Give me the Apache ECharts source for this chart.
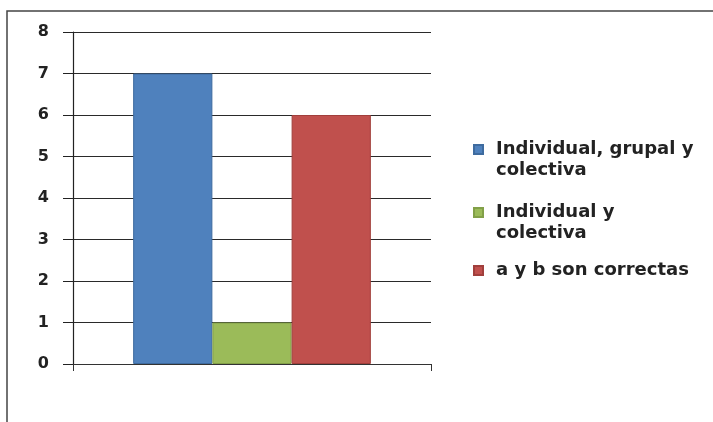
<!DOCTYPE html>
<html>
<head>
<meta charset="utf-8">
<script src="https://cdn.jsdelivr.net/npm/echarts@6/dist/echarts.min.js"></script>
<style>
  html, body { margin: 0; padding: 0; background: #fff; }
  #chart { width: 713px; height: 422px; }
</style>
</head>
<body>
<div id="chart"></div>
<script>
// Survey answers: one category, one bar per answer option
const categories = [''];
const seriesNames = ['Individual, grupal y colectiva', 'Individual y colectiva', 'a y b son correctas'];
const legendLabels = ['Individual, grupal y\ncolectiva', 'Individual y\ncolectiva', 'a y b son correctas'];
const seriesValues = [[7], [1], [6]];
const yTicks = [0, 1, 2, 3, 4, 5, 6, 7, 8];

const colors = ['#4F81BD', '#9BBB59', '#C0504D'];
const borders = ['#3E6B9F', '#82A048', '#A13F3C'];

const legendFont = {
  fontFamily: 'DejaVu Sans', fontWeight: 'bold', fontSize: 18,
  color: '#222', lineHeight: 21, padding: [0, 0, 0, 8]
};

// one legend block per entry; wrapped labels get a blank first line so the
// swatch (centred on the text block) lines up with the first written line
const legendTops = [118, 181, 260];
const legends = seriesNames.map((name, i) => {
  const twoLine = legendLabels[i].indexOf('\n') >= 0;
  const text = twoLine ? '\n' + legendLabels[i] : legendLabels[i];
  return {
    orient: 'vertical',
    left: 473,
    top: legendTops[i],
    padding: 0,
    itemWidth: 9,
    itemHeight: 9,
    itemGap: 0,
    icon: 'rect',
    data: [name],
    formatter: () => text,
    textStyle: legendFont
  };
});

const chart = echarts.init(document.getElementById('chart'), null, { renderer: 'canvas' });
chart.setOption({
  backgroundColor: '#fff',
  animation: false,
  graphic: [{
    type: 'rect',
    shape: { x: 7, y: 11, width: 720, height: 430 },
    style: { fill: 'none', stroke: '#444', lineWidth: 1.5 },
    silent: true
  }],
  grid: { left: 73, right: 282, top: 32, bottom: 58 },
  legend: legends,
  xAxis: {
    type: 'category',
    data: categories,
    axisLine: { lineStyle: { color: '#333', width: 1.2 } },
    axisTick: { show: true, length: 7, alignWithLabel: false, lineStyle: { color: '#333' } },
    axisLabel: { show: false }
  },
  yAxis: {
    type: 'value',
    min: yTicks[0],
    max: yTicks[yTicks.length - 1],
    interval: 1,
    axisLine: { show: true, lineStyle: { color: '#222', width: 1.2 } },
    axisTick: { show: true, length: 10, lineStyle: { color: '#222' } },
    axisLabel: {
      margin: 24,
      fontFamily: 'DejaVu Sans', fontWeight: 'bold', fontSize: 16, color: '#222'
    },
    splitLine: { lineStyle: { color: '#2a2a2a', width: 1.2 } }
  },
  series: seriesNames.map((name, i) => ({
    name: name,
    type: 'bar',
    data: seriesValues[i],
    barGap: '0%',
    barCategoryGap: '33.6%',
    itemStyle: { color: colors[i], borderColor: borders[i], borderWidth: 1 }
  }))
});
</script>
</body>
</html>
